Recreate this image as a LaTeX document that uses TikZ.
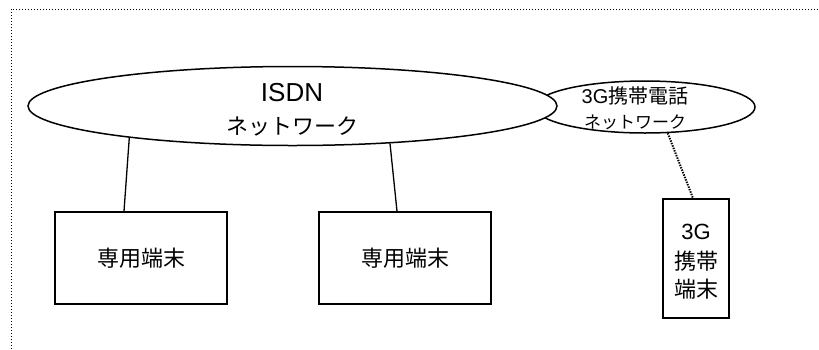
\documentclass[tikz,border=0pt]{standalone}
\usepackage{fontspec}
\setmainfont{Liberation Sans}
\newfontfamily\jp{Noto Sans CJK JP}
\usetikzlibrary{shapes.geometric,calc}
\tikzset{
  net/.style={draw,ellipse,line width=1.5pt,inner sep=0pt,fill=white},
  term/.style={draw,rectangle,line width=1.5pt,inner sep=0pt,fill=white},
  txt/.style={inner sep=0pt,anchor=center},
  link/.style={line width=1.3pt},
  radio/.style={line width=2pt,dash pattern=on 1.4pt off 1.2pt},
  frame/.style={line width=1pt,dash pattern=on 1pt off 2pt},
}
\begin{document}
\begin{tikzpicture}[x=1pt,y=-1pt]
\useasboundingbox (0,0) rectangle (819,349);
\draw[frame] (11,349) -- (11,9) -- (819,9);
% 3G network (behind)
\node[net,minimum width=220pt,minimum height=52pt] (g3) at (645,107) {};
\node[txt,font=\fontsize{20pt}{24pt}\selectfont] (g3a) at (635,96) {3G{\jp 携帯電話}};
\node[txt,font=\jp\fontsize{17pt}{20pt}\selectfont] (g3b) at (635,122) {ネットワーク};
% ISDN network
\node[net,minimum width=529pt,minimum height=79pt] (isdn) at (292.5,106) {};
\node[txt,font=\fontsize{26pt}{30pt}\selectfont] (isdna) at (292,93) {ISDN};
\node[txt,font=\jp\fontsize{22pt}{26pt}\selectfont] (isdnb) at (292,126) {ネットワーク};
% terminals
\node[term,minimum width=172pt,minimum height=92pt,font=\jp\fontsize{22pt}{26pt}\selectfont] (t1) at (141,258) {専用端末};
\node[term,minimum width=172pt,minimum height=92pt,font=\jp\fontsize{22pt}{26pt}\selectfont] (t2) at (405,258) {専用端末};
\node[term,minimum width=66pt,minimum height=119pt] (t3) at (696,258.5) {};
\node[txt,font=\fontsize{22pt}{26pt}\selectfont] (t3a) at (696,232) {3G};
\node[txt,font=\jp\fontsize{22pt}{26pt}\selectfont] (t3b) at (696,261) {携帯};
\node[txt,font=\jp\fontsize{22pt}{26pt}\selectfont] (t3c) at (696,289) {端末};
% connectors
\draw[link] (isdn.191) -- ($(t1.north)+(-17,0)$);
\draw[link] (isdn.339) -- ($(t2.north)+(-8,0)$);
\draw[radio] (g3.311) -- ($(t3.north)+(-3,0)$);
\end{tikzpicture}
\end{document}
